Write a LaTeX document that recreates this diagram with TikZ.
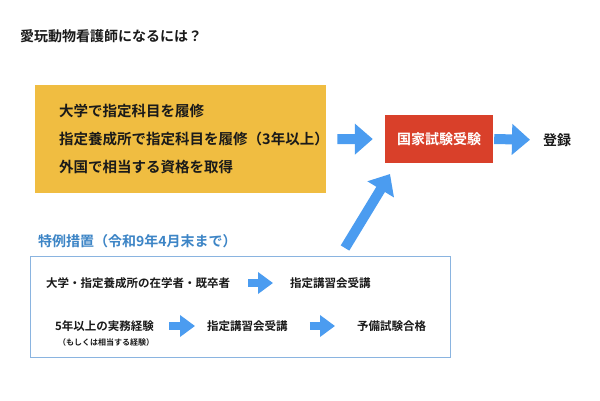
\documentclass[tikz,border=0pt]{standalone}
\usepackage{fontspec}
\setmainfont{Noto Sans CJK JP}[BoldFont={Noto Sans CJK JP Bold}]
\usetikzlibrary{arrows.meta}
\definecolor{ybg}{HTML}{F0BD41}
\definecolor{rbg}{HTML}{D9402A}
\definecolor{arr}{HTML}{4B9CF0}
\definecolor{ttl}{HTML}{3D85C6}
\definecolor{bframe}{HTML}{8AB4E0}
\definecolor{txt}{HTML}{1A1A1A}
\tikzset{
  plain/.style={inner sep=0pt, text=txt, font=\fontsize{14pt}{16pt}\selectfont\bfseries},
  yline/.style={inner sep=0pt, text=txt, font=\fontsize{14.5pt}{16pt}\selectfont\bfseries},
  small/.style={inner sep=0pt, text=txt, font=\fontsize{11.5pt}{13pt}\selectfont\bfseries},
  tiny/.style={inner sep=0pt, text=txt, font=\fontsize{8pt}{9pt}\selectfont\bfseries},
  bigarrow/.style={draw=arr, line width=10pt, -{Triangle[width=30pt,length=18pt]}},
  smallarrow/.style={draw=arr, line width=8pt, -{Triangle[width=21pt,length=15pt]}},
}
\begin{document}
\begin{tikzpicture}[x=1pt,y=-1pt]
\useasboundingbox[fill=white] (0,0) rectangle (600,400);
% title
\node[plain, anchor=west] (title) at (20,36) {愛玩動物看護師になるには？};
% yellow box
\node[fill=ybg, minimum width=291pt, minimum height=108pt, inner sep=0pt, anchor=north west] (ybox) at (35,85) {};
\node[yline, anchor=west] (y1) at (59,111) {大学で指定科目を履修};
\node[yline, anchor=west] (y2) at (59,139) {指定養成所で指定科目を履修（3年以上）};
\node[yline, anchor=west] (y3) at (59,167) {外国で相当する資格を取得};
% red box
\node[fill=rbg, text=white, font=\fontsize{14pt}{15pt}\selectfont\bfseries, minimum width=108pt, minimum height=48pt, inner sep=0pt] (red) at (439,139) {国家試験受験};
\node[plain, anchor=west] (reg) at (543,140) {登録};
\draw[bigarrow, shorten <=11pt, shorten >=12pt] (ybox.east) -- (red.west);
\draw[bigarrow, shorten <=1pt, shorten >=13pt] (red.east) -- (reg.west);
% special measures
\node[plain, text=ttl, anchor=west] (sp) at (38,241.5) {特例措置（令和9年4月末まで）};
\node[draw=bframe, line width=1.2pt, minimum width=420pt, minimum height=101pt, inner sep=0pt, anchor=north west] (bbox) at (30,256) {};
\node[small, anchor=west] (r1a) at (46,283) {大学・指定養成所の在学者・既卒者};
\node[small, anchor=west] (r1b) at (290,283) {指定講習会受講};
\draw[smallarrow, shorten <=18pt, shorten >=17pt] (r1a.east) -- (r1b.west);
\node[small, anchor=west] (r2a) at (55,326) {5年以上の実務経験};
\node[tiny, anchor=west] (r2n) at (58,342) {（もしくは相当する経験）};
\node[small, anchor=west] (r2b) at (207,326) {指定講習会受講};
\node[small, anchor=west] (r2c) at (357,326) {予備試験合格};
\draw[smallarrow, shorten <=15pt, shorten >=12pt] (r2a.east) -- (r2b.west);
\draw[smallarrow, shorten <=22pt, shorten >=22pt] (r2b.east) -- (r2c.west);
% diagonal arrow
\coordinate (dtail) at (345,248);
\coordinate (dtip) at (390,174);
\draw[bigarrow] (dtail) -- (dtip);
\end{tikzpicture}
\end{document}
